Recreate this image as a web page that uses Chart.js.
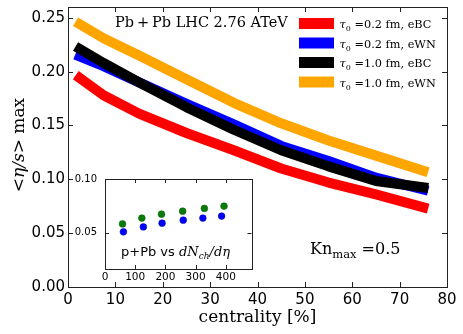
<!DOCTYPE html>
<html>
<head>
<meta charset="utf-8">
<script src="https://cdn.jsdelivr.net/npm/chart.js@4.4.1/dist/chart.umd.min.js"></script>
<style>
  body { margin: 0; background: #fff; }
  #wrap { position: relative; width: 463px; height: 334px; }
  #main { position: absolute; left: 0; top: 0; }
  #inset { position: absolute; left: 70px; top: 172px; }
</style>
</head>
<body>
<div id="wrap">
  <canvas id="main" width="463" height="334"></canvas>
  <canvas id="inset" width="186" height="113"></canvas>
</div>
<script>
// centrality bins (%)
const centrality = [2.5, 7.5, 15, 25, 35, 45, 55, 65, 75];
// <eta/s> max for each setup
const tau02eBC = [0.194, 0.178, 0.161, 0.143, 0.127, 0.110, 0.097, 0.086, 0.074];
const tau02eWN = [0.214, 0.205, 0.190, 0.170, 0.151, 0.131, 0.117, 0.1015, 0.0905];
const tau10eBC = [0.221, 0.208, 0.190, 0.167, 0.146, 0.127, 0.112, 0.0985, 0.0925];
const tau10eWN = [0.244, 0.231, 0.215, 0.193, 0.171, 0.152, 0.136, 0.122, 0.108];
const seriesLabels = ['=0.2 fm, eBC', '=0.2 fm, eWN', '=1.0 fm, eBC', '=1.0 fm, eWN'];
const seriesColors = ['#ff0000', '#0000ff', '#000000', '#ffa500'];
const xTicks = [0, 10, 20, 30, 40, 50, 60, 70, 80];
const yTicks = [0, 0.05, 0.10, 0.15, 0.20, 0.25];

// inset: p+Pb vs dNch/deta
const pPbMultGreen = [58, 122, 187, 257, 329, 394];
const pPbEtaGreen = [0.0581, 0.0635, 0.0672, 0.0700, 0.0725, 0.0747];
const pPbMultBlue = [61, 127, 189, 259, 324, 386];
const pPbEtaBlue = [0.0507, 0.0553, 0.0588, 0.0616, 0.0635, 0.0654];
const insetXTicks = [0, 100, 200, 300, 400];
const insetYTicks = [0.05, 0.10];

Chart.defaults.font.family = 'DejaVu Sans';
Chart.defaults.color = '#000';

function drawRuns(ctx, x, y, runs) {
    runs.forEach(r => {
        ctx.font = r.font;
        ctx.fillText(r.text, x, y + (r.dy || 0));
        x += ctx.measureText(r.text).width;
    });
    return x;
}
function runsWidth(ctx, runs) {
    let w = 0;
    runs.forEach(r => { ctx.font = r.font; w += ctx.measureText(r.text).width; });
    return w;
}

// box + inward ticks on all four sides
const frameTicks = {
    id: 'frameTicks',
    afterDraw(chart, args, opts) {
        const {ctx, chartArea: a, scales: {x, y}} = chart;
        const len = opts.len || 5;
        ctx.save();
        ctx.strokeStyle = '#222';
        ctx.lineWidth = 1;
        ctx.beginPath();
        x.ticks.forEach(t => {
            const px = Math.round(x.getPixelForValue(t.value)) + 0.5;
            ctx.moveTo(px, a.bottom); ctx.lineTo(px, a.bottom - len);
            ctx.moveTo(px, a.top); ctx.lineTo(px, a.top + len);
        });
        y.ticks.forEach(t => {
            const py = Math.round(y.getPixelForValue(t.value)) + 0.5;
            ctx.moveTo(a.left, py); ctx.lineTo(a.left + len, py);
            ctx.moveTo(a.right, py); ctx.lineTo(a.right - len, py);
        });
        ctx.stroke();
        ctx.strokeRect(Math.round(a.left) + 0.5, Math.round(a.top) + 0.5,
            Math.round(a.right - a.left), Math.round(a.bottom - a.top));
        ctx.restore();
    }
};

const mainText = {
    id: 'mainText',
    afterDraw(chart) {
        const {ctx, chartArea: a} = chart;
        ctx.save();
        ctx.fillStyle = '#000';
        ctx.textBaseline = 'alphabetic';
        ctx.textAlign = 'left';

        // legend
        chart.data.datasets.forEach((ds, i) => {
            const yc = a.top + 16.5 + 19.5 * i;
            ctx.fillStyle = ds.borderColor;
            ctx.fillRect(a.right - 148, yc - 5.5, 35, 11);
            ctx.fillStyle = '#000';
            drawRuns(ctx, a.right - 107.5, yc + 4.5, [
                {text: 'τ', font: 'italic 11.5px "DejaVu Serif"'},
                {text: '0', font: '8px "DejaVu Serif"', dy: 3},
                {text: ' ' + seriesLabels[i], font: '11.3px "DejaVu Serif"'}
            ]);
        });

        drawRuns(ctx, 115, 27, [{text: 'Pb\u2009+\u2009Pb LHC 2.76 ATeV', font: '14.5px "DejaVu Serif"'}]);
        drawRuns(ctx, 310, 254, [
            {text: 'Kn', font: '16px "DejaVu Serif"'},
            {text: 'max', font: '11.5px "DejaVu Serif"', dy: 4},
            {text: ' =0.5', font: '16px "DejaVu Serif"'}
        ]);

        // axis titles
        ctx.font = '17px "DejaVu Serif"';
        ctx.textAlign = 'center';
        ctx.fillText('centrality [%]', (a.left + a.right) / 2, 322);
        ctx.textAlign = 'left';
        const yTitle = [
            {text: '<', font: '17px "DejaVu Serif"'},
            {text: 'η/s', font: 'italic 17px "DejaVu Serif"'},
            {text: '> max', font: '17px "DejaVu Serif"'}
        ];
        ctx.translate(24, 145);
        ctx.rotate(-Math.PI / 2);
        drawRuns(ctx, -runsWidth(ctx, yTitle) / 2, 0, yTitle);
        ctx.restore();
    }
};

const series = [tau02eBC, tau02eWN, tau10eBC, tau10eWN];
const mainChart = new Chart(document.getElementById('main'), {
    type: 'line',
    data: {
        datasets: series.map((vals, i) => ({
            label: seriesLabels[i],
            data: centrality.map((c, k) => ({x: c, y: vals[k]})),
            borderColor: seriesColors[i],
            backgroundColor: seriesColors[i],
            borderWidth: 10,
            borderCapStyle: 'square',
            borderJoinStyle: 'round',
            pointRadius: 0,
            tension: 0,
            fill: false,
            order: 4 - i
        }))
    },
    options: {
        responsive: false,
        animation: false,
        layout: {padding: {top: 7, right: 16, left: 0, bottom: 0}},
        plugins: {
            legend: {display: false},
            tooltip: {enabled: false},
            frameTicks: {len: 5}
        },
        scales: {
            x: {
                type: 'linear',
                min: 0,
                max: 80,
                afterBuildTicks: s => { s.ticks = xTicks.map(v => ({value: v})); },
                afterFit: s => { s.height = 47; s.paddingLeft = 0; s.paddingRight = 0; },
                grid: {display: false, drawTicks: false},
                border: {display: false},
                ticks: {font: {size: 15}, padding: 4, maxRotation: 0, callback: v => String(v)}
            },
            y: {
                min: 0,
                max: 0.26,
                afterBuildTicks: s => { s.ticks = yTicks.map(v => ({value: v})); },
                afterFit: s => { s.width = 68; s.paddingTop = 0; s.paddingBottom = 0; },
                grid: {display: false, drawTicks: false},
                border: {display: false},
                ticks: {font: {size: 15}, padding: 3, callback: v => v.toFixed(2)}
            }
        }
    },
    plugins: [frameTicks, mainText]
});

const insetText = {
    id: 'insetText',
    afterDraw(chart) {
        const {ctx, chartArea: a} = chart;
        ctx.save();
        ctx.fillStyle = '#000';
        ctx.textBaseline = 'alphabetic';
        drawRuns(ctx, a.left + 16, 84, [
            {text: 'p+Pb vs ', font: '13px "DejaVu Sans"'},
            {text: 'dN', font: 'italic 13px "DejaVu Serif"'},
            {text: 'ch', font: 'italic 9px "DejaVu Serif"', dy: 3},
            {text: '/dη', font: 'italic 13px "DejaVu Serif"'}
        ]);
        ctx.restore();
    }
};

const insetChart = new Chart(document.getElementById('inset'), {
    type: 'scatter',
    data: {
        datasets: [
            {
                label: 'green',
                data: pPbMultGreen.map((m, k) => ({x: m, y: pPbEtaGreen[k]})),
                backgroundColor: '#0a7a0a',
                borderColor: '#005a00',
                borderWidth: 0.5,
                pointRadius: 3.4
            },
            {
                label: 'blue',
                data: pPbMultBlue.map((m, k) => ({x: m, y: pPbEtaBlue[k]})),
                backgroundColor: '#0000ff',
                borderColor: '#0000b0',
                borderWidth: 0.5,
                pointRadius: 3.4
            }
        ]
    },
    options: {
        responsive: false,
        animation: false,
        layout: {padding: {top: 7, right: 4, left: 0, bottom: 0}},
        plugins: {
            legend: {display: false},
            tooltip: {enabled: false},
            frameTicks: {len: 4}
        },
        scales: {
            x: {
                type: 'linear',
                min: 0,
                max: 485,
                afterBuildTicks: s => { s.ticks = insetXTicks.map(v => ({value: v})); },
                afterFit: s => { s.height = 16; s.paddingLeft = 0; s.paddingRight = 0; },
                grid: {display: false, drawTicks: false},
                border: {display: false},
                ticks: {font: {size: 10.5}, padding: 2, maxRotation: 0, callback: v => String(v)}
            },
            y: {
                min: 0.016,
                max: 0.10,
                afterBuildTicks: s => { s.ticks = insetYTicks.map(v => ({value: v})); },
                afterFit: s => { s.width = 35; s.paddingTop = 0; s.paddingBottom = 0; },
                grid: {display: false, drawTicks: false},
                border: {display: false},
                ticks: {font: {size: 10}, padding: 8, callback: v => v.toFixed(2)}
            }
        }
    },
    plugins: [frameTicks, insetText]
});
</script>
</body>
</html>
